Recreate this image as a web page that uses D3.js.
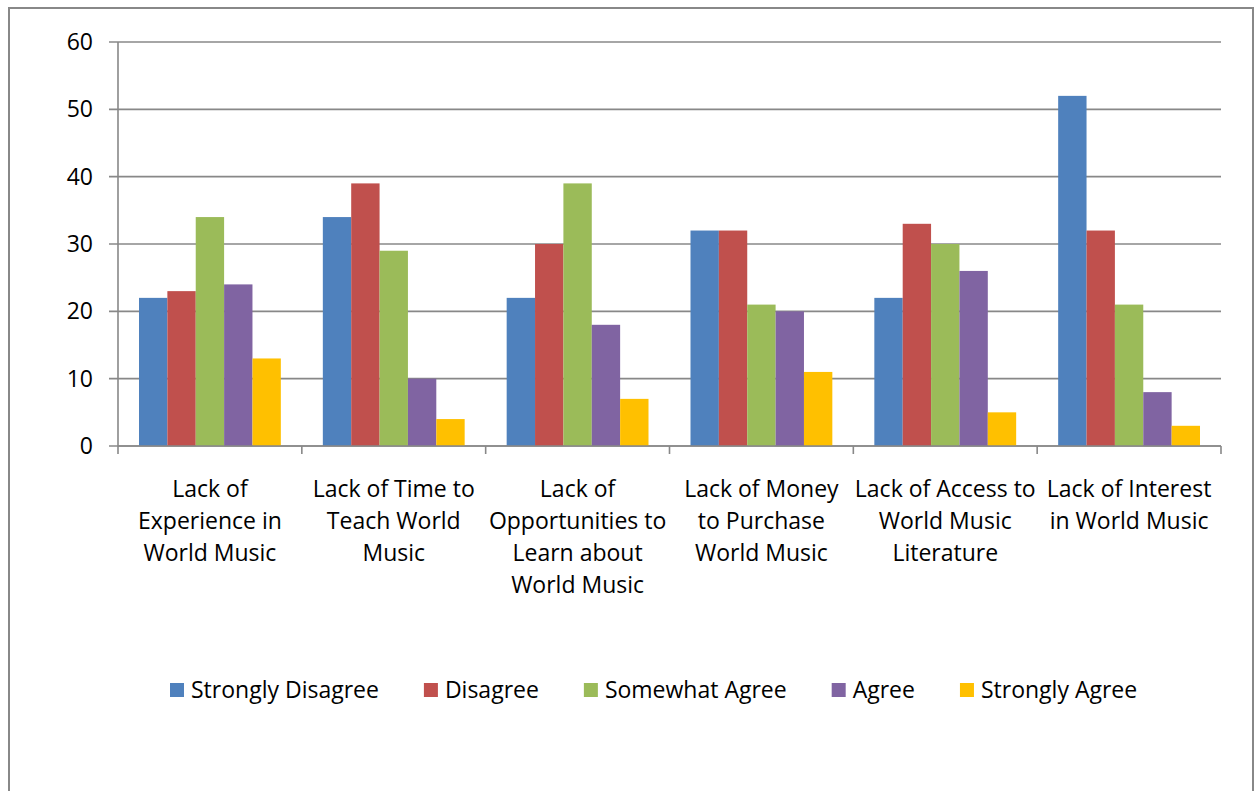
<!DOCTYPE html>
<html><head><meta charset="utf-8">
<script src="https://cdn.jsdelivr.net/npm/d3@7"></script>
<style>body{margin:0;background:#fff}svg{display:block}</style>
</head><body>
<script>
const categories = [
  ["Lack of","Experience in","World Music"],
  ["Lack of Time to","Teach World","Music"],
  ["Lack of","Opportunities to","Learn about","World Music"],
  ["Lack of Money","to Purchase","World Music"],
  ["Lack of Access to","World Music","Literature"],
  ["Lack of Interest","in World Music"]
];
const seriesNames = ["Strongly Disagree","Disagree","Somewhat Agree","Agree","Strongly Agree"];
const stronglyDisagree = [22,34,22,32,22,52];
const disagree = [23,39,30,32,33,32];
const somewhatAgree = [34,29,39,21,30,21];
const agree = [24,10,18,20,26,8];
const stronglyAgree = [13,4,7,11,5,3];
const yTicks = [0,10,20,30,40,50,60];
const colors = ["#4F81BD","#C0504D","#9BBB59","#8064A2","#FFC000"];

(function(){
const series = [stronglyDisagree, disagree, somewhatAgree, agree, stronglyAgree];
const W = 1255, H = 791;
const font = "'Open Sans', 'Noto Sans', sans-serif";
const fs = 23;
const svg = d3.select("body").append("svg").attr("width", W).attr("height", H);

svg.append("rect").attr("x",9).attr("y",8).attr("width",1244).attr("height",800)
  .attr("fill","none").attr("stroke","#888").attr("stroke-width",2);

const pLeft = 118, pRight = 1221, pTop = 42, pBottom = 446;
const x = d3.scaleBand().domain(d3.range(categories.length)).range([pLeft,pRight]).paddingInner(0).paddingOuter(0);
const inner = d3.scaleBand().domain(d3.range(series.length)).range([21, x.bandwidth()-21]).padding(0);
const y = d3.scaleLinear().domain([0,60]).range([pBottom, pTop]);

svg.append("g").selectAll("line").data(yTicks).join("line")
  .attr("x1", pLeft-9).attr("x2", pRight).attr("y1", d=>y(d)).attr("y2", d=>y(d))
  .attr("stroke","#888").attr("stroke-width",1.6);

svg.append("g").selectAll("text").data(yTicks).join("text")
  .attr("x", 93).attr("y", d=>y(d)).attr("dy","0.35em").attr("text-anchor","end")
  .attr("font-family", font).attr("font-size", fs).attr("fill","#000").text(d=>d);

const g = svg.append("g");
categories.forEach((c, i) => {
  series.forEach((s, j) => {
    g.append("rect")
      .attr("x", x(i) + inner(j)).attr("width", inner.bandwidth())
      .attr("y", y(s[i])).attr("height", y(0) - y(s[i]))
      .attr("fill", colors[j]);
  });
});

svg.append("line").attr("x1",pLeft).attr("x2",pLeft).attr("y1",pTop).attr("y2",pBottom)
  .attr("stroke","#888").attr("stroke-width",1.6);
svg.append("line").attr("x1",pLeft).attr("x2",pRight).attr("y1",pBottom).attr("y2",pBottom)
  .attr("stroke","#888").attr("stroke-width",1.6);
const bounds = d3.range(categories.length+1).map(i => i < categories.length ? x(i) : pRight);
svg.append("g").selectAll("line").data(bounds).join("line")
  .attr("x1", d=>d).attr("x2", d=>d).attr("y1", pBottom).attr("y2", pBottom+8)
  .attr("stroke","#888").attr("stroke-width",1.6);

categories.forEach((c, i) => {
  const t = svg.append("text").attr("text-anchor","middle")
    .attr("font-family", font).attr("font-size", fs).attr("fill","#000");
  c.forEach((line, k) => {
    t.append("tspan").attr("x", x(i) + x.bandwidth()/2).attr("y", 497 + k*32).text(line);
  });
});

const lg = svg.append("g");
let lx = 170;
seriesNames.forEach((n, j) => {
  lg.append("rect").attr("x", lx).attr("y", 683).attr("width", 14).attr("height", 14).attr("fill", colors[j]);
  const t = lg.append("text").attr("x", lx + 21).attr("y", 690).attr("dy","0.35em")
    .attr("font-family", font).attr("font-size", fs).attr("fill","#000").text(n);
  lx += 21 + t.node().getComputedTextLength() + 45;
});
})();
</script>
</body></html>
